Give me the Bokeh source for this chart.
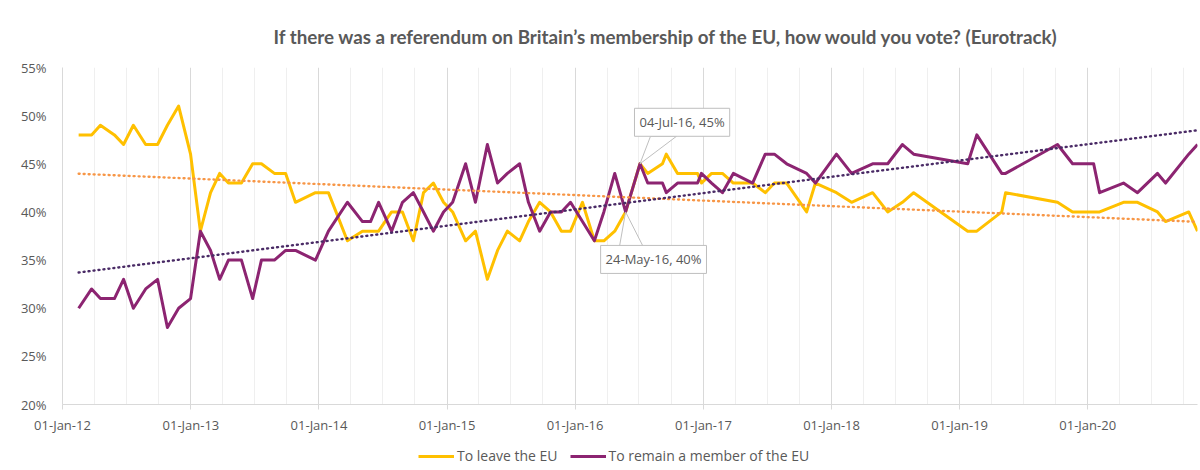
import numpy as np
import pandas as pd
from bokeh.plotting import figure
from bokeh.layouts import column
from bokeh.models import (FixedTicker, DatetimeTickFormatter, PrintfTickFormatter,
                          Legend, LegendItem, Label, ColumnDataSource, Range1d)
from bokeh.embed import file_html
from bokeh.resources import INLINE

title_text = "If there was a referendum on Britain\u2019s membership of the EU, how would you vote? (Eurotrack)"
series_names = ["To leave the EU", "To remain a member of the EU"]

poll_dates = [
    "2012-02-16", "2012-03-24", "2012-04-18", "2012-05-28", "2012-06-23", "2012-07-21", "2012-08-25",
    "2012-09-28", "2012-10-26", "2012-11-27", "2012-12-31",
    "2013-01-28", "2013-02-26", "2013-03-24", "2013-04-18", "2013-05-25", "2013-06-26", "2013-07-21",
    "2013-08-27", "2013-09-28", "2013-10-26", "2013-12-22",
    "2014-01-28", "2014-03-23", "2014-05-05", "2014-05-28", "2014-06-20", "2014-07-27", "2014-08-27",
    "2014-09-27", "2014-10-26", "2014-11-23", "2014-12-22",
    "2015-01-17", "2015-02-23", "2015-03-23", "2015-04-26", "2015-05-25", "2015-06-22", "2015-07-27",
    "2015-08-21", "2015-09-22", "2015-10-23", "2015-11-23", "2015-12-19",
    "2016-01-22", "2016-02-25", "2016-03-23", "2016-04-23", "2016-05-24", "2016-07-04", "2016-07-26",
    "2016-09-06", "2016-09-17", "2016-10-19", "2016-11-22", "2016-12-15", "2016-12-26",
    "2017-01-24", "2017-02-24", "2017-03-27", "2017-05-21", "2017-06-26", "2017-07-22", "2017-08-26",
    "2017-10-22", "2017-11-16",
    "2018-01-15", "2018-02-27", "2018-04-28", "2018-06-10", "2018-07-22", "2018-08-23",
    "2019-01-24", "2019-02-19", "2019-05-01", "2019-05-12", "2019-10-07", "2019-11-19",
    "2020-01-18", "2020-02-04", "2020-04-12", "2020-05-22", "2020-07-18", "2020-08-10", "2020-10-15",
    "2020-11-09",
]

leave = [
    48, 48, 49, 48, 47, 49, 47, 47, 49, 51, 46,
    38, 42, 44, 43, 43, 45, 45, 44, 44, 41, 42,
    42, 37, 38, 38, 38, 40, 40, 37, 42, 43, 41,
    40, 37, 38, 33, 36, 38, 37, 39, 41, 40, 38, 38,
    41, 37, 37, 38, 40, 45, 44, 45, 46, 44, 44, 44, 43,
    44, 44, 43, 43, 42, 43, 43, 40, 43,
    42, 41, 42, 40, 41, 42,
    38, 38, 40, 42, 41, 40,
    40, 40, 41, 41, 40, 39, 40, 38,
]

remain = [
    30, 32, 31, 31, 33, 30, 32, 33, 28, 30, 31,
    38, 36, 33, 35, 35, 31, 35, 35, 36, 36, 35,
    38, 41, 39, 39, 41, 38, 41, 42, 40, 38, 40,
    41, 45, 41, 47, 43, 44, 45, 41, 38, 40, 40, 41,
    39, 37, 40, 44, 40, 45, 43, 43, 42, 43, 43, 43, 44,
    43, 42, 44, 43, 46, 46, 45, 44, 43,
    46, 44, 45, 45, 47, 46,
    45, 48, 44, 44, 47, 45,
    45, 42, 43, 42, 44, 43, 46, 47,
]

axis_start = "2012-01-01"
year_ticks = ["2012-01-01", "2013-01-01", "2014-01-01", "2015-01-01", "2016-01-01",
              "2017-01-01", "2018-01-01", "2019-01-01", "2020-01-01"]
y_ticks = [20, 25, 30, 35, 40, 45, 50, 55]
callouts = [("2016-07-04", 45, "04-Jul-16, 45%"), ("2016-05-24", 40, "24-May-16, 40%")]

LEAVE_C = "#FFC000"
REMAIN_C = "#8C2471"
LEAVE_TREND_C = "#F79646"
REMAIN_TREND_C = "#4A2B66"
TXT = "#595959"
GRID = "#D9D9D9"

W = 1200
T_H, LEG_H = 50, 34
H = 470 - T_H - LEG_H
BL, BR, BT, BB = 62, 3, 17, 32
FRAME_W = W - BL - BR

def ms(s):
    return pd.Timestamp(s).value / 1e6

def strip(height):
    f = figure(width=W, height=height, output_backend="svg", toolbar_location=None,
               x_range=(0, FRAME_W), y_range=(0, height), x_axis_location=None, y_axis_location=None,
               min_border=0, background_fill_color="white", border_fill_color="white")
    f.outline_line_color = None
    f.xgrid.visible = False
    f.ygrid.visible = False
    return f

# ---- title strip
tf = strip(T_H)
tf.add_layout(Label(x=211, y=T_H - 36, text=title_text, text_align="left", text_baseline="middle",
                    text_font="Lato", text_font_style="bold", text_font_size="18.8px", text_color=TXT))

# ---- main chart
dates = pd.to_datetime(poll_dates)
x_start = ms(axis_start)
x_end = ms(poll_dates[-1])

src = ColumnDataSource(dict(date=dates, leave=leave, remain=remain))

p = figure(width=W, height=H, output_backend="svg", toolbar_location=None,
           x_axis_type="datetime", x_range=Range1d(x_start, x_end), y_range=Range1d(y_ticks[0], y_ticks[-1]),
           min_border_left=BL, min_border_right=BR, min_border_top=BT, min_border_bottom=BB,
           background_fill_color="white", border_fill_color="white")
p.outline_line_color = None

major = [ms(t) for t in year_ticks]
minor = []
for t in year_ticks:
    yr = pd.Timestamp(t).year
    for m in (4, 7, 10):
        minor.append(ms(f"{yr}-{m:02d}-01"))
xticker = FixedTicker(ticks=major, minor_ticks=minor)
p.xaxis.ticker = xticker
p.xgrid.ticker = xticker
fmt = "%d-%b-%y"
p.xaxis.formatter = DatetimeTickFormatter(years=fmt, months=fmt, days=fmt, hours=fmt, minutes=fmt,
                                          seconds=fmt, milliseconds=fmt, minsec=fmt, hourmin=fmt)
p.xgrid.grid_line_color = GRID
p.xgrid.minor_grid_line_color = "#EFEFEF"
p.ygrid.grid_line_color = None
p.xaxis.axis_line_color = GRID
p.xaxis.major_tick_line_color = GRID
p.xaxis.major_tick_out = 5
p.xaxis.major_tick_in = 0
p.xaxis.minor_tick_line_color = None
p.xaxis.major_label_standoff = 6

p.yaxis.ticker = FixedTicker(ticks=y_ticks)
p.yaxis.formatter = PrintfTickFormatter(format="%d%%")
p.yaxis.axis_line_color = GRID
p.yaxis.major_tick_line_color = None
p.yaxis.minor_tick_line_color = None
p.yaxis.major_label_standoff = 10

for ax in (p.xaxis, p.yaxis):
    ax.major_label_text_font = "Open Sans"
    ax.major_label_text_font_size = "13px"
    ax.major_label_text_color = TXT

line_style = dict(line_width=3, line_join="round")
r_leave = p.line("date", "leave", source=src, line_color=LEAVE_C, **line_style)
r_remain = p.line("date", "remain", source=src, line_color=REMAIN_C, **line_style)

# linear trend lines
days = np.array([(pd.Timestamp(d) - pd.Timestamp(axis_start)).days for d in poll_dates], dtype=float)
tx = [dates[0], dates[-1]]
for vals, col in ((leave, LEAVE_TREND_C), (remain, REMAIN_TREND_C)):
    k, b = np.polyfit(days, np.array(vals, dtype=float), 1)
    ty = [k * days[0] + b, k * days[-1] + b]
    p.line(tx, ty, line_color=col, line_width=2.4, line_dash="1 4", line_cap="round")

# callouts
frame_h = H - BT - BB
mpp = (x_end - x_start) / FRAME_W
vpp = (y_ticks[-1] - y_ticks[0]) / frame_h
callout_geo = [  # (box dx, box bottom dy, pointer base dy, base dx1, base dx2)
    (-5.5, 27.5, 27.5, 10.5, 36.5),
    (-25, -61.5, -39.5, -7, 20),
]
for (d, v, txt), (bdx, bdy, pdy, b1, b2) in zip(callouts, callout_geo):
    x0 = ms(d)
    p.patch([x0, x0 + b1 * mpp, x0 + b2 * mpp], [v, v + pdy * vpp, v + pdy * vpp],
            fill_color="white", line_color="#BFBFBF", line_width=1)
    p.add_layout(Label(x=x0, y=v, x_offset=bdx, y_offset=bdy, text=txt, anchor="bottom_left",
                       text_font="Open Sans", text_font_size="13px", text_color=TXT,
                       border_line_color="#BFBFBF", background_fill_color="white", padding=5))

# ---- legend strip
lf = strip(LEG_H)
off = [-100, -90]  # legend proxies kept outside the visible strip
g_leave = lf.line(off, off, line_color=LEAVE_C, **line_style)
g_remain = lf.line(off, off, line_color=REMAIN_C, **line_style)
legend = Legend(items=[LegendItem(label=series_names[0], renderers=[g_leave]),
                       LegendItem(label=series_names[1], renderers=[g_remain])],
                orientation="horizontal", location=(356, 5),
                label_text_font="Open Sans", label_text_font_size="14px", label_text_color=TXT,
                glyph_width=36, glyph_height=14, spacing=12, label_standoff=3,
                border_line_color=None, background_fill_alpha=0, padding=2, margin=0)
lf.add_layout(legend, "center")

layout = column(tf, p, lf, spacing=0)
open("out.html", "w").write(file_html(layout, INLINE))
